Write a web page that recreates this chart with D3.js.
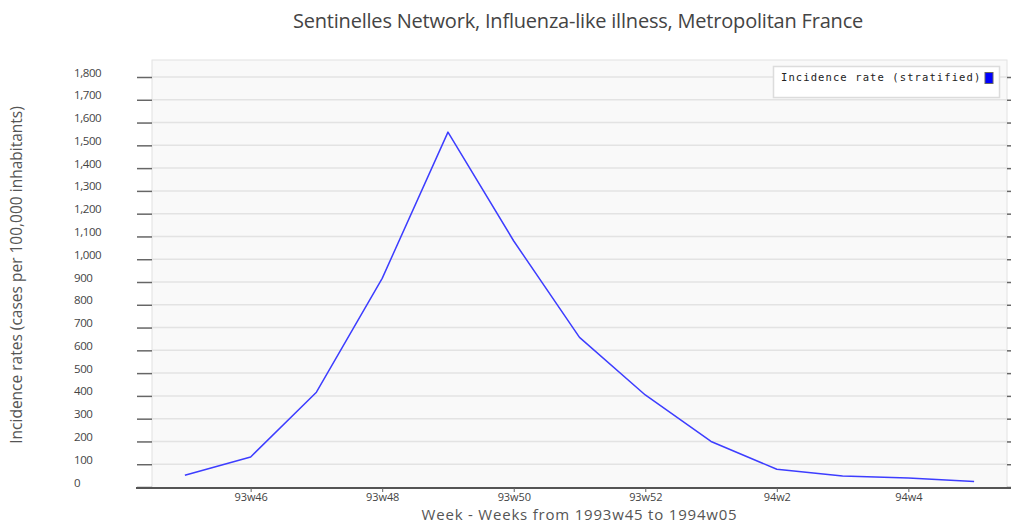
<!DOCTYPE html>
<html>
<head>
<meta charset="utf-8">
<script src="https://cdn.jsdelivr.net/npm/d3@7"></script>
<style>
  body { margin: 0; background: #fff; }
  svg { display: block; }
</style>
</head>
<body>
<svg id="chart" width="1011" height="525"></svg>
<script>
// Weekly influenza-like illness incidence, 1993w45 – 1994w05
const weeks = ["93w45", "93w46", "93w47", "93w48", "93w49", "93w50", "93w51",
               "93w52", "94w1", "94w2", "94w3", "94w4", "94w5"];
const incidence = [52, 132, 416, 916, 1558, 1080, 657, 404, 200, 78, 48, 40, 24];
const xTickLabels = ["93w46", "93w48", "93w50", "93w52", "94w2", "94w4"];
const yTicks = d3.range(0, 1801, 100);

const titleText = "Sentinelles Network, Influenza-like illness, Metropolitan France";
const xTitle = "Week - Weeks from 1993w45 to 1994w05";
const yTitle = "Incidence rates (cases per 100,000 inhabitants)";
const seriesName = "Incidence rate (stratified)";

const svg = d3.select("#chart");
const plot = { left: 152, right: 1007, top: 60, bottom: 488 };

const x = d3.scalePoint().domain(weeks).range([plot.left, plot.right]).padding(0.5);
const y = d3.scaleLinear().domain([0, 1800]).range([487, 77]);

const font = "'Open Sans', sans-serif";

// plot background
svg.append("rect")
  .attr("x", plot.left).attr("y", plot.top)
  .attr("width", plot.right - plot.left).attr("height", plot.bottom - plot.top)
  .attr("fill", "#f9f9f9").attr("stroke", "#e2e2e2").attr("stroke-width", 1);

// horizontal grid
svg.append("g").selectAll("line").data(yTicks.filter(d => d > 0)).join("line")
  .attr("x1", plot.left).attr("x2", plot.right)
  .attr("y1", d => y(d)).attr("y2", d => y(d))
  .attr("stroke", "#e3e3e3").attr("stroke-width", 1.5);

// left axis: ticks outside the plot, labels left-aligned and raised above the tick
const yAxis = svg.append("g")
  .attr("transform", `translate(${plot.left},0)`)
  .call(d3.axisLeft(y).tickValues(yTicks).tickSize(15).tickFormat(d3.format(",")));
yAxis.select(".domain").remove();
yAxis.selectAll(".tick line").attr("stroke", "#666").attr("stroke-width", 1.5);
yAxis.selectAll(".tick text")
  .attr("x", 74 - plot.left).attr("y", -1).attr("dy", null).attr("text-anchor", "start")
  .attr("fill", "#444").style("font-family", font).style("font-size", "11.5px")
  .style("letter-spacing", "-0.4px");

// right-side tick stubs
const yAxisR = svg.append("g")
  .attr("transform", `translate(${plot.right},0)`)
  .call(d3.axisRight(y).tickValues(yTicks).tickSize(5).tickFormat(""));
yAxisR.select(".domain").remove();
yAxisR.selectAll(".tick line").attr("stroke", "#666").attr("stroke-width", 1.5);

// bottom axis
const xAxis = svg.append("g")
  .attr("transform", `translate(0,${plot.bottom})`)
  .call(d3.axisBottom(x).tickValues(xTickLabels).tickSize(4).tickSizeOuter(0));
xAxis.select(".domain").attr("stroke", "#555").attr("stroke-width", 2)
  .attr("d", `M${plot.left - 16},0H${plot.right + 4}`);
xAxis.selectAll(".tick line").attr("stroke", "#666");
xAxis.selectAll(".tick text")
  .attr("y", 5).attr("fill", "#444")
  .style("font-family", font).style("font-size", "11px").style("letter-spacing", "-0.1px");

// incidence line
const line = d3.line().x((d, i) => x(weeks[i])).y(d => y(d));
svg.append("path")
  .datum(incidence)
  .attr("d", line)
  .attr("fill", "none")
  .attr("stroke", "#3d3dff")
  .attr("stroke-width", 1.5)
  .attr("stroke-linejoin", "round");

// title
svg.append("text")
  .attr("x", 578).attr("y", 28).attr("text-anchor", "middle")
  .attr("fill", "#444").style("font-family", font).style("font-size", "20px")
  .style("letter-spacing", "-0.2px")
  .text(titleText);

// axis titles
svg.append("text")
  .attr("x", (plot.left + plot.right) / 2).attr("y", 520).attr("text-anchor", "middle")
  .attr("fill", "#555").style("font-family", font).style("font-size", "15px")
  .style("letter-spacing", "0.8px")
  .text(xTitle);

svg.append("text")
  .attr("transform", "translate(22,275) rotate(-90)").attr("text-anchor", "middle")
  .attr("fill", "#555").style("font-family", font).style("font-size", "15.5px")
  .text(yTitle);

// legend
const legend = svg.append("g");
legend.append("rect")
  .attr("x", 773.5).attr("y", 66.5).attr("width", 226).attr("height", 31)
  .attr("fill", "#fff").attr("stroke", "#dcdcdc").attr("stroke-width", 1.5);
legend.append("text")
  .attr("x", 781).attr("y", 81)
  .attr("fill", "#222").style("font-family", "'DejaVu Sans Mono', monospace")
  .style("font-size", "10.5px").style("letter-spacing", "1.1px")
  .text(seriesName);
legend.append("rect")
  .attr("x", 985).attr("y", 72.5).attr("width", 8).attr("height", 11)
  .attr("fill", "#0000ff").attr("stroke", "#666").attr("stroke-width", 1);
</script>
</body>
</html>
